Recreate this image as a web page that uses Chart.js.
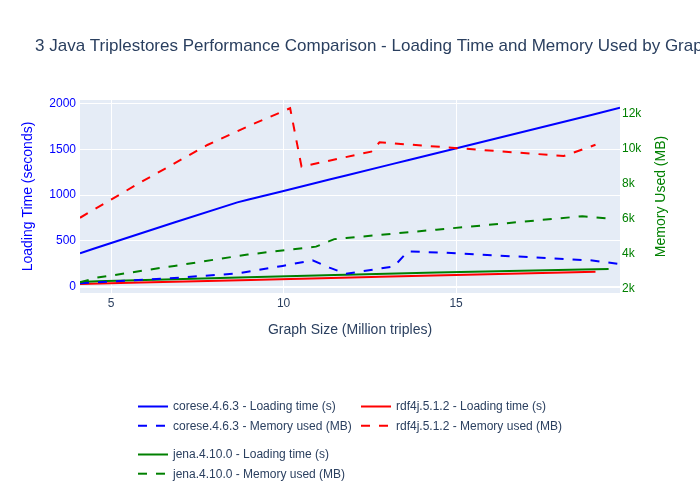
<!DOCTYPE html>
<html><head><meta charset="utf-8">
<script src="https://cdn.jsdelivr.net/npm/chart.js@4"></script>
<style>html,body{margin:0;padding:0;background:#fff}canvas{display:block}</style>
</head><body>
<canvas id="c" width="700" height="500"></canvas>
<script>
// ---------- data ----------
const chartTitle = "3 Java Triplestores Performance Comparison - Loading Time and Memory Used by Graph Size";
const xTitle = "Graph Size (Million triples)";
const yTitle = "Loading Time (seconds)";
const y2Title = "Memory Used (MB)";

const coreseSize    = [4.1, 4.47, 6.83, 8.66, 8.96, 9.97, 10.84, 11.33, 11.81, 13.2, 13.6, 14.69, 18.95, 19.75];
const coreseLoading = [364, 411, 700, 920, 948, 1042, 1123, 1169, 1213, 1343, 1380, 1481, 1877, 1952];
const coreseMemory  = [2290, 2330, 2590, 2850, 2940, 3280, 3600, 3180, 2830, 3250, 4110, 4030, 3590, 3380];

const rdf4jSize    = [4.1, 5.86, 7.79, 9.05, 10.19, 10.52, 12.54, 12.78, 18.12, 19.04];
const rdf4jLoading = [29, 45, 62, 74, 84, 87, 105, 107, 155, 164];
const rdf4jMemory  = [6030, 8060, 10190, 11330, 12290, 8950, 9810, 10340, 9560, 10200];

const jenaSize    = [4.1, 4.6, 6.83, 8.96, 10.94, 11.47, 11.81, 14.43, 18.66, 19.42];
const jenaLoading = [52, 58, 82, 103, 122, 127, 130, 155, 187, 193];
const jenaMemory  = [2340, 2610, 3280, 3930, 4380, 4810, 4870, 5350, 6120, 5990];

const seriesNames = ["corese.4.6.3", "rdf4j.5.1.2", "jena.4.10.0"];
const seriesColors = ["blue", "red", "green"];

const xTicks = [5, 10, 15];
const loadTicks = [0, 500, 1000, 1500, 2000];
const memTicks = [2000, 4000, 6000, 8000, 10000, 12000];

// ---------- build ----------
const FONT = "'Liberation Sans', Arial, sans-serif";
const TXT = "#2a3f5f";
Chart.defaults.font.family = FONT;

function pts(xs, ys) { return xs.map((x, i) => ({x: x, y: ys[i]})); }
const sizes = [coreseSize, rdf4jSize, jenaSize];
const loads = [coreseLoading, rdf4jLoading, jenaLoading];
const mems = [coreseMemory, rdf4jMemory, jenaMemory];

const datasets = [];
for (let s = 0; s < 3; s++) {
  datasets.push({
    label: seriesNames[s] + " - Loading time (s)",
    data: pts(sizes[s], loads[s]), yAxisID: "y",
    borderColor: seriesColors[s], backgroundColor: seriesColors[s],
    borderWidth: 2, pointRadius: 0, tension: 0, fill: false, order: 6 - s
  });
  datasets.push({
    label: seriesNames[s] + " - Memory used (MB)",
    data: pts(sizes[s], mems[s]), yAxisID: "y2",
    borderColor: seriesColors[s], backgroundColor: seriesColors[s],
    borderWidth: 2, borderDash: [9, 9], pointRadius: 0, tension: 0, fill: false, order: 3 - s
  });
}

function setTicks(arr) { return function(scale) { scale.ticks = arr.map(v => ({value: v})); }; }

const decor = {
  id: "decor",
  beforeDraw(chart) {
    const {ctx, chartArea: a} = chart;
    ctx.save();
    ctx.fillStyle = "#E5ECF6";
    ctx.fillRect(a.left, a.top, a.right - a.left, a.bottom - a.top);
    ctx.restore();
  },
  afterDraw(chart) {
    const {ctx, chartArea: a} = chart;
    ctx.save();
    // main title
    ctx.fillStyle = TXT;
    ctx.font = "17px " + FONT;
    ctx.textAlign = "left";
    ctx.textBaseline = "alphabetic";
    ctx.fillText(chartTitle, 35, 51);
    // right axis title
    ctx.save();
    ctx.translate(661.5, (a.top + a.bottom) / 2);
    ctx.rotate(-Math.PI / 2);
    ctx.fillStyle = "green";
    ctx.font = "14px " + FONT;
    ctx.textAlign = "center";
    ctx.textBaseline = "middle";
    ctx.fillText(y2Title, 0, 0);
    ctx.restore();
    // legend
    ctx.font = "12px " + FONT;
    ctx.textAlign = "left";
    ctx.textBaseline = "middle";
    const ds = chart.data.datasets;
    for (let g = 0; g < 3; g++) {
      const gx = 133 + (g % 2) * 223;
      const gy = 406.5 + Math.floor(g / 2) * 48;
      for (let k = 0; k < 2; k++) {
        const d = ds[g * 2 + k];
        const y = gy + k * 19.2;
        ctx.beginPath();
        ctx.strokeStyle = d.borderColor;
        ctx.lineWidth = 2;
        ctx.setLineDash(d.borderDash || []);
        ctx.moveTo(gx + 5, y);
        ctx.lineTo(gx + 35, y);
        ctx.stroke();
        ctx.setLineDash([]);
        ctx.fillStyle = TXT;
        ctx.fillText(d.label, gx + 40, y + 0.5);
      }
    }
    ctx.restore();
  }
};

new Chart(document.getElementById("c"), {
  type: "line",
  data: {datasets: datasets},
  plugins: [decor],
  options: {
    responsive: false, animation: false, devicePixelRatio: 1,
    layout: {padding: {top: 100, bottom: 160, left: 0, right: 0}},
    plugins: {legend: {display: false}, title: {display: false}, tooltip: {enabled: false}},
    scales: {
      x: {
        type: "linear", min: 4.1, max: 19.75,
        afterBuildTicks: setTicks(xTicks),
        afterFit(s) { s.height = 47; },
        grid: {color: "#ffffff", lineWidth: 1, drawTicks: false},
        border: {display: false},
        ticks: {color: TXT, font: {size: 12}, padding: 3, maxRotation: 0},
        title: {display: true, text: xTitle, color: TXT, font: {size: 14}, padding: {top: 0, bottom: 1}}
      },
      y: {
        type: "linear", position: "left", min: -69, max: 2037,
        afterBuildTicks: setTicks(loadTicks),
        afterFit(s) { s.width = 80; },
        grid: {color: "#ffffff", lineWidth: c => (c.tick && c.tick.value === 0 ? 2 : 1), drawTicks: false},
        border: {display: false},
        ticks: {color: "blue", font: {size: 12}, padding: 4, callback: v => String(v)},
        title: {display: true, text: yTitle, color: "blue", font: {size: 14}, padding: {top: 20, bottom: 0}}
      },
      y2: {
        type: "linear", position: "right", min: 1731, max: 12760,
        afterBuildTicks: setTicks(memTicks),
        afterFit(s) { s.width = 80; },
        grid: {display: false, drawTicks: false},
        border: {display: false},
        ticks: {color: "green", font: {size: 12}, padding: 2, callback: v => (v / 1000) + "k"}
      }
    }
  }
});
</script>
</body></html>
